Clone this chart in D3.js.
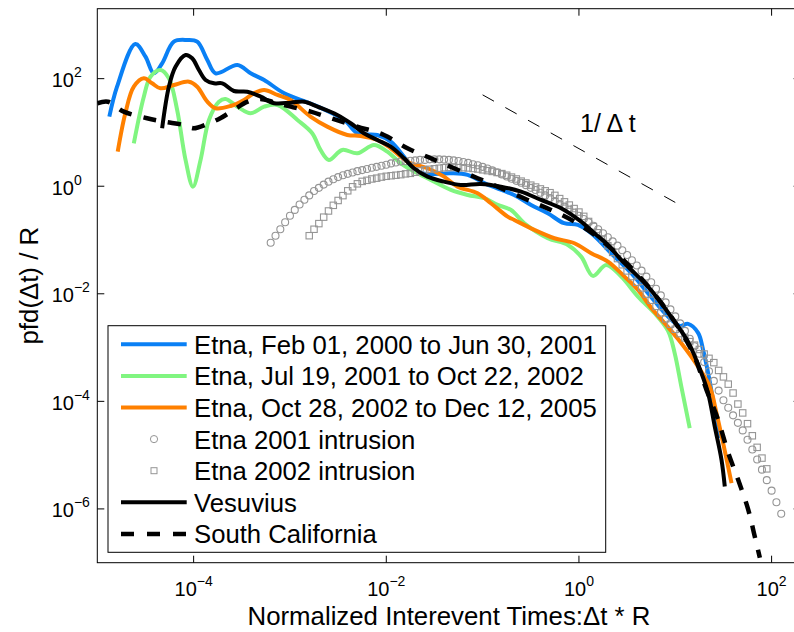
<!DOCTYPE html>
<html>
<head>
<meta charset="utf-8">
<style>
  html, body { margin: 0; padding: 0; background: #fff; }
  #chart { width: 794px; height: 632px; }
  svg { display: block; font-family: "Liberation Sans", Arial, Helvetica, sans-serif; }
</style>
<script src="https://cdn.jsdelivr.net/npm/d3@7"></script>
</head>
<body>
<div id="chart"></div>
<script>
// All series are [log10(dt*R), log10(pdf/R)] pairs
const etnaA = [[-4.875,1.294],[-4.795,1.851],[-4.605,2.645],[-4.50,2.409],[-4.413,2.10],[-4.327,2.286],
  [-4.205,2.688],[-4.067,2.719],[-3.963,2.688],[-3.858,2.347],[-3.772,2.10],[-3.546,2.255],[-3.408,2.10],
  [-3.268,1.976],[-3.06,1.729],[-2.748,1.511],[-2.436,1.232],[-2.30,0.985],[-2.093,0.953],[-1.954,0.829],
  [-1.816,0.55],[-1.712,0.303],[-1.59,0.229],[-1.33,0.242],[-1.156,0.21],[-0.966,0.043],[-0.674,-0.162],
  [-0.497,-0.348],[-0.324,-0.502],[-0.154,-0.688],[-0.011,-0.719],[0.127,-0.874],[0.369,-1.309],
  [0.543,-1.617],[0.717,-1.989],[0.925,-2.424],[1.046,-2.597],[1.133,-2.56],[1.237,-2.727],[1.289,-3.043],
  [1.341,-3.47],[1.41,-4.158],[1.462,-4.679]];

const etnaB = [[-4.621,0.799],[-4.517,1.665],[-4.448,2.037],[-4.344,2.162],[-4.257,2.007],[-4.171,1.418],
  [-4.084,0.489],[-4.007,-0.008],[-3.928,0.489],[-3.841,1.232],[-3.737,1.572],[-3.668,1.623],[-3.546,1.479],
  [-3.408,1.357],[-3.268,1.479],[-3.13,1.511],[-2.922,1.232],[-2.769,0.985],[-2.683,0.675],[-2.596,0.489],
  [-2.457,0.675],[-2.30,0.613],[-2.128,0.768],[-1.989,0.643],[-1.85,0.427],[-1.676,0.242],[-1.538,0.117],
  [-1.33,-0.069],[-1.156,-0.162],[-0.983,-0.223],[-0.844,-0.348],[-0.705,-0.441],[-0.567,-0.688],
  [-0.324,-0.967],[-0.115,-1.091],[0.023,-1.309],[0.145,-1.667],[0.283,-1.463],[0.439,-1.68],[0.613,-2.052],
  [0.786,-2.361],[0.925,-2.69],[0.994,-3.104],[1.063,-3.725],[1.15,-4.498]];

const etnaC = [[-4.788,0.643],[-4.709,1.357],[-4.621,1.851],[-4.517,2.007],[-4.431,1.914],[-4.344,1.821],
  [-4.205,1.883],[-4.049,1.944],[-3.963,1.851],[-3.858,1.572],[-3.772,1.45],[-3.616,1.492],[-3.477,1.604],
  [-3.373,1.729],[-3.268,1.79],[-3.13,1.697],[-2.995,1.604],[-2.787,1.294],[-2.613,1.108],[-2.405,0.953],
  [-2.266,0.935],[-2.093,0.86],[-1.954,0.706],[-1.78,0.457],[-1.572,0.334],[-1.40,0.178],[-1.26,-0.008],
  [-1.052,-0.13],[-0.914,-0.316],[-0.74,-0.565],[-0.671,-0.627],[-0.463,-0.812],[-0.255,-0.967],
  [-0.047,-1.06],[0.127,-1.245],[0.301,-1.402],[0.473,-1.68],[0.613,-1.928],[0.751,-2.262],[0.89,-2.547],
  [1.063,-2.918],[1.237,-3.353],[1.358,-3.725],[1.428,-4.219],[1.497,-4.777],[1.584,-5.521]];

const intrusion2001 = [[-3.20,-1.05],[-3.15,-0.92],[-3.10,-0.80],[-3.05,-0.67],[-3.00,-0.55],[-2.95,-0.44],
  [-2.90,-0.34],[-2.85,-0.25],[-2.80,-0.17],[-2.75,-0.09],[-2.70,-0.03],[-2.65,0.03],[-2.60,0.085],
  [-2.55,0.13],[-2.50,0.17],[-2.45,0.205],[-2.40,0.23],[-2.35,0.255],[-2.30,0.28],[-2.25,0.30],[-2.20,0.32],
  [-2.15,0.345],[-2.10,0.36],[-2.05,0.38],[-2.00,0.40],[-1.95,0.425],[-1.90,0.44],[-1.85,0.46],[-1.80,0.465],
  [-1.75,0.475],[-1.70,0.48],[-1.65,0.49],[-1.60,0.49],[-1.55,0.50],[-1.50,0.50],[-1.45,0.50],[-1.40,0.495],
  [-1.35,0.49],[-1.30,0.48],[-1.25,0.47],[-1.20,0.45],[-1.15,0.435],[-1.10,0.41],[-1.05,0.39],[-1.00,0.36],
  [-0.95,0.33],[-0.90,0.295],[-0.85,0.26],[-0.80,0.22],[-0.75,0.18],[-0.70,0.14],[-0.65,0.10],[-0.60,0.065],
  [-0.55,0.02],[-0.50,-0.03],[-0.45,-0.07],[-0.40,-0.12],[-0.35,-0.17],[-0.30,-0.22],[-0.25,-0.275],
  [-0.20,-0.33],[-0.15,-0.38],[-0.10,-0.435],[-0.05,-0.49],[0.00,-0.55],[0.05,-0.61],[0.10,-0.67],
  [0.15,-0.735],[0.20,-0.80],[0.25,-0.875],[0.30,-0.95],[0.35,-1.025],[0.40,-1.105],[0.45,-1.19],[0.50,-1.28],
  [0.55,-1.375],[0.60,-1.475],[0.65,-1.57],[0.70,-1.68],[0.75,-1.785],[0.80,-1.905],[0.85,-2.03],[0.90,-2.16],
  [0.95,-2.29],[1.00,-2.42],[1.05,-2.55],[1.10,-2.69],[1.15,-2.835],[1.20,-2.975],[1.25,-3.115],[1.30,-3.27],
  [1.35,-3.44],[1.40,-3.62],[1.45,-3.80],[1.50,-3.98],[1.55,-4.12],[1.60,-4.26],[1.65,-4.40],[1.70,-4.54],
  [1.75,-4.715],[1.80,-4.895],[1.85,-5.08],[1.90,-5.27],[1.95,-5.465],[2.00,-5.66],[2.05,-5.875],[2.10,-6.09]];

const intrusion2002 = [[-2.80,-0.92],[-2.75,-0.80],[-2.70,-0.695],[-2.65,-0.575],[-2.60,-0.46],[-2.55,-0.355],
  [-2.50,-0.265],[-2.45,-0.175],[-2.40,-0.085],[-2.35,-0.01],[-2.30,0.045],[-2.25,0.09],[-2.20,0.11],
  [-2.15,0.135],[-2.10,0.15],[-2.05,0.17],[-2.00,0.185],[-1.95,0.195],[-1.90,0.205],[-1.85,0.215],[-1.80,0.23],
  [-1.75,0.24],[-1.70,0.26],[-1.65,0.285],[-1.60,0.305],[-1.55,0.315],[-1.50,0.325],[-1.45,0.335],[-1.40,0.345],
  [-1.35,0.35],[-1.30,0.35],[-1.25,0.345],[-1.20,0.345],[-1.15,0.34],[-1.10,0.33],[-1.05,0.32],[-1.00,0.305],
  [-0.95,0.29],[-0.90,0.275],[-0.85,0.255],[-0.80,0.235],[-0.75,0.205],[-0.70,0.17],[-0.65,0.135],
  [-0.60,0.095],[-0.55,0.06],[-0.50,0.02],[-0.45,-0.015],[-0.40,-0.05],[-0.35,-0.085],[-0.30,-0.12],
  [-0.25,-0.17],[-0.20,-0.23],[-0.15,-0.29],[-0.10,-0.35],[-0.05,-0.415],[0.00,-0.48],[0.05,-0.56],
  [0.10,-0.655],[0.15,-0.75],[0.20,-0.865],[0.25,-0.98],[0.30,-1.105],[0.35,-1.23],[0.40,-1.345],[0.45,-1.46],
  [0.50,-1.575],[0.55,-1.68],[0.60,-1.785],[0.65,-1.89],[0.70,-2.005],[0.75,-2.12],[0.80,-2.235],[0.85,-2.355],
  [0.90,-2.465],[0.95,-2.565],[1.00,-2.66],[1.05,-2.74],[1.10,-2.82],[1.15,-2.89],[1.20,-2.955],[1.25,-3.035],
  [1.30,-3.12],[1.35,-3.20],[1.40,-3.28],[1.45,-3.425],[1.50,-3.545],[1.55,-3.68],[1.60,-3.845],[1.65,-4.05],
  [1.70,-4.215],[1.75,-4.415],[1.80,-4.64],[1.85,-4.855],[1.90,-5.055],[1.95,-5.255]];

const vesuvius = [[-4.327,1.078],[-4.257,1.851],[-4.188,2.223],[-4.084,2.44],[-4.015,2.379],[-3.945,2.162],
  [-3.876,1.976],[-3.789,1.914],[-3.702,1.914],[-3.581,1.771],[-3.442,1.758],[-3.304,1.665],[-3.164,1.543],
  [-2.992,1.554],[-2.852,1.572],[-2.714,1.479],[-2.509,1.325],[-2.37,1.171],[-2.232,0.985],[-2.093,0.86],
  [-1.954,0.736],[-1.816,0.52],[-1.712,0.334],[-1.572,0.178],[-1.40,0.085],[-1.226,0.024],[-1.018,0.043],
  [-0.81,-0.008],[-0.601,-0.10],[-0.393,-0.255],[-0.185,-0.409],[0.023,-0.658],[0.161,-0.874],[0.301,-1.091],
  [0.439,-1.37],[0.578,-1.617],[0.717,-1.866],[0.855,-2.175],[0.994,-2.522],[1.133,-2.894],[1.272,-3.476],
  [1.341,-3.848],[1.41,-4.469],[1.48,-5.087],[1.514,-5.584]];

const southCalifornia = [[-5.0,1.543],[-4.889,1.572],[-4.725,1.387],[-4.483,1.264],[-4.309,1.201],
  [-4.101,1.139],[-3.999,1.078],[-3.858,1.158],[-3.723,1.264],[-3.585,1.418],[-3.445,1.567],[-3.307,1.623],
  [-3.164,1.558],[-2.992,1.479],[-2.784,1.387],[-2.575,1.264],[-2.301,1.108],[-2.024,0.953],[-1.78,0.706],
  [-1.538,0.52],[-1.296,0.334],[-1.052,0.149],[-0.844,-0.008],[-0.532,-0.255],[-0.289,-0.441],[-0.047,-0.658],
  [0.231,-0.998],[0.543,-1.519],[0.855,-2.169],[1.168,-3.043],[1.324,-3.786],[1.445,-4.344],[1.549,-4.957],
  [1.653,-5.459],[1.758,-6.017],[1.826,-6.519],[1.878,-6.909]];

// 1/dt guide line (actual values)
const slopeGuide = [[0.1, 50], [10, 0.5]];

const xTickExponents = [-4, -2, 0, 2];
const yTickExponents = [2, 0, -2, -4, -6];

const legendLabels = [
  'Etna, Feb 01, 2000 to Jun 30, 2001',
  'Etna, Jul 19, 2001 to Oct 22, 2002',
  'Etna, Oct 28, 2002 to Dec 12, 2005',
  'Etna 2001 intrusion',
  'Etna 2002 intrusion',
  'Vesuvius',
  'South California'
];

const W = 794, H = 632;
const plot = { left: 97.3, right: 800.6, top: 8.7, bottom: 562.7 };

const svg = d3.select('#chart').append('svg')
  .attr('width', W).attr('height', H);

const x = d3.scaleLog().domain([1e-5, 200]).range([plot.left, plot.right]);
const y = d3.scaleLog().domain([1e-7, 2000]).range([plot.bottom, plot.top]);

svg.append('defs').append('clipPath').attr('id', 'clip')
  .append('rect')
  .attr('x', plot.left).attr('y', plot.top)
  .attr('width', plot.right - plot.left).attr('height', plot.bottom - plot.top);

const g = svg.append('g').attr('clip-path', 'url(#clip)');

const line = d3.line()
  .x(d => x(Math.pow(10, d[0])))
  .y(d => y(Math.pow(10, d[1])))
  .curve(d3.curveCatmullRom.alpha(0.5));

const markerGray = '#959595';

// series styles, in drawing order
const styles = [
  { data: etnaA, color: '#0a80f5', width: 4 },
  { data: etnaB, color: '#80f580', width: 4 },
  { data: etnaC, color: '#ff8000', width: 4 }
];

styles.forEach(s => {
  g.append('path')
    .attr('d', line(s.data))
    .attr('fill', 'none')
    .attr('stroke', s.color)
    .attr('stroke-width', s.width)
    .attr('stroke-linejoin', 'round');
});

// intrusion markers
g.append('g').selectAll('circle')
  .data(intrusion2001)
  .join('circle')
  .attr('cx', d => x(Math.pow(10, d[0])))
  .attr('cy', d => y(Math.pow(10, d[1])))
  .attr('r', 3.5)
  .attr('fill', 'none')
  .attr('stroke', markerGray)
  .attr('stroke-width', 1.1);

g.append('g').selectAll('rect')
  .data(intrusion2002)
  .join('rect')
  .attr('x', d => x(Math.pow(10, d[0])) - 3.2)
  .attr('y', d => y(Math.pow(10, d[1])) - 3.2)
  .attr('width', 6.4)
  .attr('height', 6.4)
  .attr('fill', 'none')
  .attr('stroke', markerGray)
  .attr('stroke-width', 1.1);

g.append('path')
  .attr('d', line(vesuvius))
  .attr('fill', 'none')
  .attr('stroke', '#000')
  .attr('stroke-width', 4)
  .attr('stroke-linejoin', 'round');

g.append('path')
  .attr('d', line(southCalifornia))
  .attr('fill', 'none')
  .attr('stroke', '#000')
  .attr('stroke-width', 4.5)
  .attr('stroke-dasharray', '13,12');

// 1/dt guide
g.append('path')
  .attr('d', d3.line().x(d => x(d[0])).y(d => y(d[1]))(slopeGuide))
  .attr('fill', 'none')
  .attr('stroke', '#000')
  .attr('stroke-width', 1)
  .attr('stroke-dasharray', '13,13');

svg.append('text')
  .attr('x', 580).attr('y', 131.5)
  .attr('font-size', 25)
  .text('1/ \u0394 t');

// frame + ticks (inward, all four sides)
const tickLen = 7;
const frame = svg.append('g').attr('stroke', '#000').attr('stroke-width', 1).attr('fill', 'none');
frame.append('rect')
  .attr('x', plot.left).attr('y', plot.top)
  .attr('width', plot.right - plot.left).attr('height', plot.bottom - plot.top);

xTickExponents.forEach(e => {
  const px = x(Math.pow(10, e));
  frame.append('line').attr('x1', px).attr('x2', px).attr('y1', plot.bottom).attr('y2', plot.bottom - tickLen);
  frame.append('line').attr('x1', px).attr('x2', px).attr('y1', plot.top).attr('y2', plot.top + tickLen);
});
yTickExponents.forEach(e => {
  const py = y(Math.pow(10, e));
  frame.append('line').attr('x1', plot.left).attr('x2', plot.left + tickLen).attr('y1', py).attr('y2', py);
  frame.append('line').attr('x1', plot.right).attr('x2', plot.right - tickLen).attr('y1', py).attr('y2', py);
});

const expText = e => String(e).replace('-', '\u2212');

// tick labels with superscript exponents
xTickExponents.forEach(e => {
  const t = svg.append('text')
    .attr('x', x(Math.pow(10, e)))
    .attr('y', 596)
    .attr('text-anchor', 'middle')
    .attr('font-size', 20);
  t.append('tspan').text('10');
  t.append('tspan').attr('dy', -10).attr('font-size', 14).text(expText(e));
});

yTickExponents.forEach(e => {
  const t = svg.append('text')
    .attr('x', 51.7)
    .attr('y', y(Math.pow(10, e)) + 8.5)
    .attr('font-size', 20);
  t.append('tspan').text('10');
  t.append('tspan').attr('dy', -10).attr('font-size', 14).text(expText(e));
});

// axis titles
svg.append('text')
  .attr('x', (plot.left + plot.right) / 2)
  .attr('y', 625)
  .attr('text-anchor', 'middle')
  .attr('font-size', 25.8)
  .text('Normalized Interevent Times:\u0394t * R');

svg.append('text')
  .attr('transform', `translate(37.5, ${(plot.top + plot.bottom) / 2}) rotate(-90)`)
  .attr('text-anchor', 'middle')
  .attr('font-size', 25.8)
  .text('pfd(\u0394t) / R');

// legend
const lg = svg.append('g');
lg.append('rect')
  .attr('x', 108).attr('y', 325.7)
  .attr('width', 497.7).attr('height', 226.6)
  .attr('fill', '#fff')
  .attr('stroke', '#000')
  .attr('stroke-width', 1);

const legendKinds = [
  { kind: 'line', color: '#0a80f5', width: 4 },
  { kind: 'line', color: '#80f580', width: 4 },
  { kind: 'line', color: '#ff8000', width: 4 },
  { kind: 'circle' },
  { kind: 'square' },
  { kind: 'line', color: '#000', width: 4 },
  { kind: 'line', color: '#000', width: 4.5, dash: '13,13' }
];

legendLabels.forEach((label, i) => {
  const cy = 344.3 + i * 31.6;
  const k = legendKinds[i];
  if (k.kind === 'line') {
    lg.append('line')
      .attr('x1', 121).attr('x2', 186.7)
      .attr('y1', cy).attr('y2', cy)
      .attr('stroke', k.color)
      .attr('stroke-width', k.width)
      .attr('stroke-dasharray', k.dash || null);
  } else if (k.kind === 'circle') {
    lg.append('circle').attr('cx', 154).attr('cy', cy).attr('r', 3.6)
      .attr('fill', 'none').attr('stroke', markerGray);
  } else {
    lg.append('rect').attr('x', 151).attr('y', cy - 3).attr('width', 6).attr('height', 6)
      .attr('fill', 'none').attr('stroke', markerGray);
  }
  lg.append('text')
    .attr('x', 194)
    .attr('y', cy + 9.5)
    .attr('font-size', 25.7)
    .text(label);
});
</script>
</body>
</html>
